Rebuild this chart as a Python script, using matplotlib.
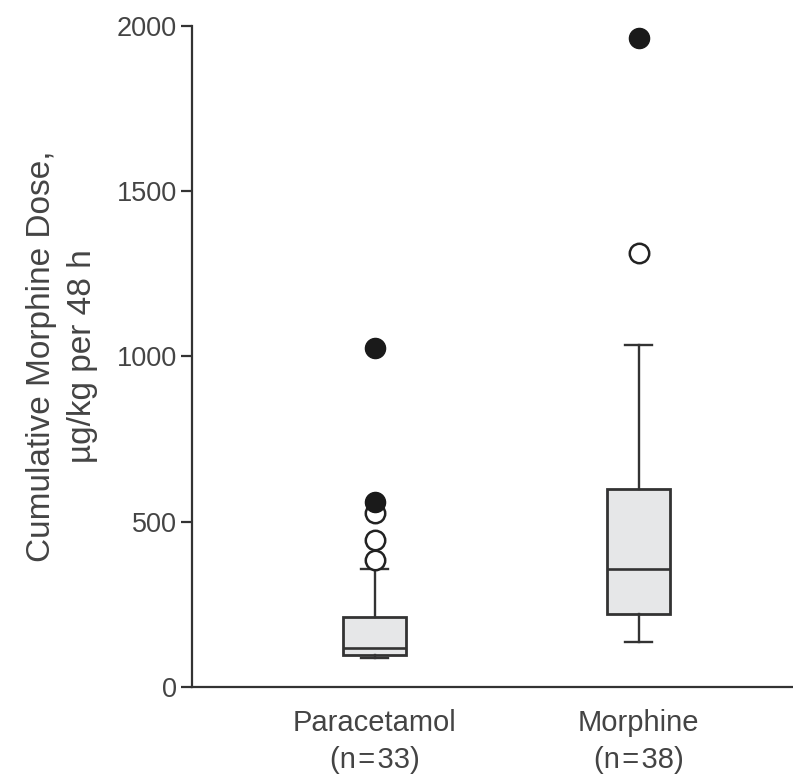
import matplotlib
matplotlib.use("Agg")
import matplotlib.pyplot as plt

# values (ug/kg per 48 h)
groups = ["Paracetamol\n(n\u200a=\u200a33)", "Morphine\n(n\u200a=\u200a38)"]
whis_lo = [88, 136]
q1 = [97, 220]
medians = [118, 358]
q3 = [211, 600]
whis_hi = [356, 1035]
open_outliers = [[383, 444, 525], [1313]]
filled_outliers = [[559, 1027], [1965]]

yticks = [0, 500, 1000, 1500, 2000]

plt.rcParams['font.family'] = ['Liberation Sans', 'DejaVu Sans']
text_col = '#444444'
line_col = '#333333'


def main():
    fig = plt.figure(figsize=(7.93, 7.78), dpi=100)
    ax = fig.add_axes([0.2421, 0.117, 0.7579, 0.8496])

    stats = []
    for i in range(len(groups)):
        stats.append({'whislo': whis_lo[i], 'q1': q1[i], 'med': medians[i],
                      'q3': q3[i], 'whishi': whis_hi[i], 'fliers': []})
    pos = [1, 2]
    ax.bxp(stats, positions=pos, widths=0.239, capwidths=0.1,
           showfliers=False, patch_artist=True,
           boxprops=dict(facecolor='#e6e7e8', edgecolor=line_col, linewidth=2.0),
           medianprops=dict(color=line_col, linewidth=1.9),
           whiskerprops=dict(color=line_col, linewidth=1.7),
           capprops=dict(color=line_col, linewidth=1.7))

    for i, p in enumerate(pos):
        ax.plot([p] * len(open_outliers[i]), open_outliers[i], 'o', ms=14,
                mfc='white', mec='#222222', mew=1.8, zorder=3)
        ax.plot([p] * len(filled_outliers[i]), filled_outliers[i], 'o', ms=14.5,
                mfc='#1a1a1a', mec='#1a1a1a', zorder=4)

    ax.set_xlim(0.3087, 2.585)
    ax.set_ylim(0, 2000)
    ax.set_yticks(yticks)
    ax.set_yticklabels([str(t) for t in yticks])
    ax.set_xticks(pos)
    ax.set_xticklabels(groups, linespacing=1.4)

    for s in ['top', 'right']:
        ax.spines[s].set_visible(False)
    for s in ['left', 'bottom']:
        ax.spines[s].set_color(line_col)
        ax.spines[s].set_linewidth(1.6)

    ax.tick_params(axis='y', length=8, width=1.6, color=line_col,
                   labelsize=19.5, labelcolor=text_col, pad=3)
    ax.tick_params(axis='x', length=0, labelsize=21, labelcolor=text_col, pad=16)

    fig.text(62 / 793, 1 - 356 / 778,
             "Cumulative Morphine Dose,\nµg/kg per 48 h",
             rotation=90, ha='center', va='center', multialignment='center',
             fontsize=24, color=text_col, linespacing=1.4)

    fig.savefig("out.png", dpi=100)


if __name__ == '__main__':
    main()
